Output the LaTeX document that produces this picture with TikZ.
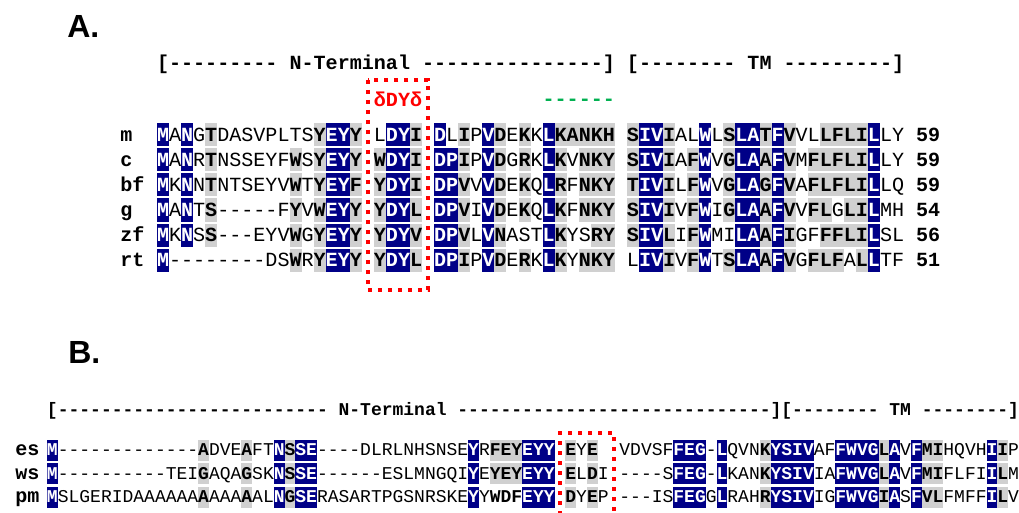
\documentclass[tikz,border=0pt]{standalone}
\usepackage{fontspec}
\usepackage{xstring}
\setsansfont{Liberation Sans}
\newfontfamily\seqfont{Liberation Mono}
\definecolor{alnblue}{RGB}{0,0,135}
\definecolor{alngray}{RGB}{208,208,208}
\definecolor{motifred}{RGB}{255,0,0}
\definecolor{linkgreen}{RGB}{0,176,80}
\newcommand\lblfnt{\seqfont\bfseries\fontsize{15.06pt}{18pt}\selectfont}
\tikzset{
  res/.style={inner sep=0pt, anchor=center, text height=\capht, text depth=0pt},
  lbl/.style={inner sep=0pt, anchor=west, text height=\capht, text depth=0pt, font=\lblfnt},
  panel/.style={inner sep=0pt, anchor=base west, font=\sffamily\bfseries\fontsize{24pt}{28pt}\selectfont},
  dotbox/.style={draw=motifred, line width=3pt, dash pattern=on 3pt off 4.5pt},
}
% one aligned row: name, y, residues, shading (b=identical, g=similar, k=bold, n=plain, .=blank)
\newcommand\seqrow[4]{%
  \StrLen{#3}[\rowlen]%
  \foreach \k in {1,...,\rowlen}{%
    \StrChar{#3}{\k}[\rescell]%
    \StrChar{#4}{\k}[\shdcode]%
    \pgfmathsetmacro\cellx{\xzero+(\k-0.5)*\cellw}%
    \if b\shdcode
      \fill[alnblue] (\cellx-\cellw/2,#2-\cellh/2) rectangle (\cellx+\cellw/2,#2+\cellh/2);
      \node[res,text=white,font=\seqfnt\bfseries] (#1-\k) at (\cellx,#2) {\rescell};
    \fi
    \if g\shdcode
      \fill[alngray] (\cellx-\cellw/2,#2-\cellh/2) rectangle (\cellx+\cellw/2,#2+\cellh/2);
      \node[res,font=\seqfnt\bfseries] (#1-\k) at (\cellx,#2) {\rescell};
    \fi
    \if k\shdcode
      \node[res,font=\seqfnt\bfseries] (#1-\k) at (\cellx,#2) {\rescell};
    \fi
    \if n\shdcode
      \node[res,font=\seqfnt] (#1-\k) at (\cellx,#2) {\rescell};
    \fi
  }%
}
% bold text on the same grid: name, first column, y, text, style
\newcommand\seqtext[5]{%
  \StrLen{#4}[\rowlen]%
  \foreach \k in {1,...,\rowlen}{%
    \StrChar{#4}{\k}[\rescell]%
    \if .\rescell\else
      \pgfmathsetmacro\cellx{\xzero+(#2+\k-0.5)*\cellw}%
      \node[res,font=\seqfnt\bfseries,#5] (#1-\k) at (\cellx,#3) {\rescell};
    \fi
  }%
}

\begin{document}
\begin{tikzpicture}[x=0.75pt,y=-0.75pt]
%%%%% START %%%%%
\useasboundingbox (0,0) rectangle (1019,513);
\clip (0,0) rectangle (1019,513);

%%% panel A
\def\xzero{157}\def\cellw{12.05}\def\cellh{23}\def\capht{9.9pt}
\def\seqfnt{\seqfont\fontsize{15.06pt}{18pt}\selectfont}

\node[panel] (titA) at (67,38) {A.};
\seqtext{hdA}{0}{63}{[---------.N-Terminal.---------------].[--------.TM.---------]}{}
\seqtext{motif}{18}{100}{δDYδ}{text=motifred}
\seqtext{grn}{32}{99}{------}{text=linkgreen}

\node[lbl] (lab-m) at (120,135) {m};
\node[lbl] (lab-c) at (120,160) {c};
\node[lbl] (lab-bf) at (120,185) {bf};
\node[lbl] (lab-g) at (120,210) {g};
\node[lbl] (lab-zf) at (120,235) {zf};
\node[lbl] (lab-rt) at (120,260) {rt};

\seqrow{m}{135}{MANGTDASVPLTSYEYY.LDYI.DLIPVDEKKLKANKH.SIVIALWLSLATFVVLLFLILLY.59}%
  {bnbngnnnnnnnngbbg.nbbg.bngnbgngnbggggg.gbbgnnbngbbgbgnnggggbnn.kk}
\seqrow{c}{160}{MANRTNSSEYFWSYEYY.WDYI.DPIPVDGRKLKVNKY.SIVIAFWVGLAAFVMFLFLILLY.59}%
  {bnbngnnnnnngngbbg.gbbg.bbgnbgngnbgnggg.gbbgngbngbbgbgngggggbnn.kk}
\seqrow{bf}{185}{MKNNTNTSEYVWTYEYF.YDYI.DPVVVDEKQLRFNKY.TIVILFWVGLAGFVAFLFLILLQ.59}%
  {bnbngnnnnnngngbbg.gbbg.bbgnbgngnbgnggg.gbbgngbngbbgbgngggggbnn.kk}
\seqrow{g}{210}{MANTS-----FYVWEYY.YDYL.DPVIVDEKQLKFNKY.SIVIVFWIGLAAFVVFLGLILMH.54}%
  {bnbngnnnnnngngbbg.gbbg.bbgnbgngnbgnggg.gbbgngbngbbgbgnggnggbnn.kk}
\seqrow{zf}{235}{MKNSS---EYVWGYEYY.YDYV.DPVLVNASTLKYSRY.SIVLIFWMILAAFIGFFFLILSL.56}%
  {bnbngnnnnnngngbbg.gbbg.bbgnbgnnnbgnngg.gbbgngbnnbbgbgnnggggbnn.kk}
\seqrow{rt}{260}{M--------DSWRYEYY.YDYL.DPIPVDERKLKYNKY.LIVIVFWTSLAAFVGFLFALLTF.51}%
  {bnnnnnnnnnngngbbg.gbbg.bbgnbgngnbgnggg.nbbgngbngbbgbgngggngbnn.kk}

\draw[dotbox] (367.9,80) rectangle (428.1,290);

%%% panel B
\def\xzero{47}\def\cellw{10.8}\def\cellh{21}\def\capht{8.9pt}
\def\seqfnt{\seqfont\fontsize{13.5pt}{16pt}\selectfont}

\node[panel] (titB) at (68,363) {B.};
\seqtext{hdB}{0}{410}{[-------------------------.N-Terminal.-----------------------------][--------.TM.--------]}{}

\node[lbl] (lab-es) at (15,450) {es};
\node[lbl] (lab-ws) at (15,473.5) {ws};
\node[lbl] (lab-pm) at (15,497) {pm};

\seqrow{es}{450}{M-------------ADVEAFTNSSE----DLRLNHSNSEYRFEYEYY.EYE..VDVSFFEG-LQVNKYSIVAFFWVGLAVFMIHQVHIIP}%
  {bnnnnnnnnnnnnngnnngnnbgbbnnnnnnnnnnnnnnbngggbbb.gng..nnnnnbbbnbnnngbbbbnnbbbbgbnbggnnnnbgn}
\seqrow{ws}{473.5}{M----------TEIGAQAGSKNSSE------ESLMNGQIYEYEYEYY.ELDI.----SFEG-LKANKYSIVIAFWVGLAVFMIFLFIILM}%
  {bnnnnnnnnnnnnngnnngnnbgbbnnnnnnnnnnnnnnbngggbbb.gngn.nnnnnbbbnbnnngbbbbnnbbbbgbnbggnnnnbgn}
\seqrow{pm}{497}{MSLGERIDAAAAAAAAAAAALNGSERASARTPGSNRSKEYYWDFEYY.DYEP.---ISFEGGLRAHRYSIVIGFWVGIASFVLFMFFILV}%
  {bnnnnnnnnnnnnngnnngnnbgbbnnnnnnnnnnnnnnbnkkkbbb.gngn.nnnnnbbbnbnnngbbbbnnbbbbgbnbggnnnnbgn}

\draw[dotbox] (560,525) -- (560,433) -- (614,433) -- (614,525);
%%%%% END %%%%%
\end{tikzpicture}
\end{document}
